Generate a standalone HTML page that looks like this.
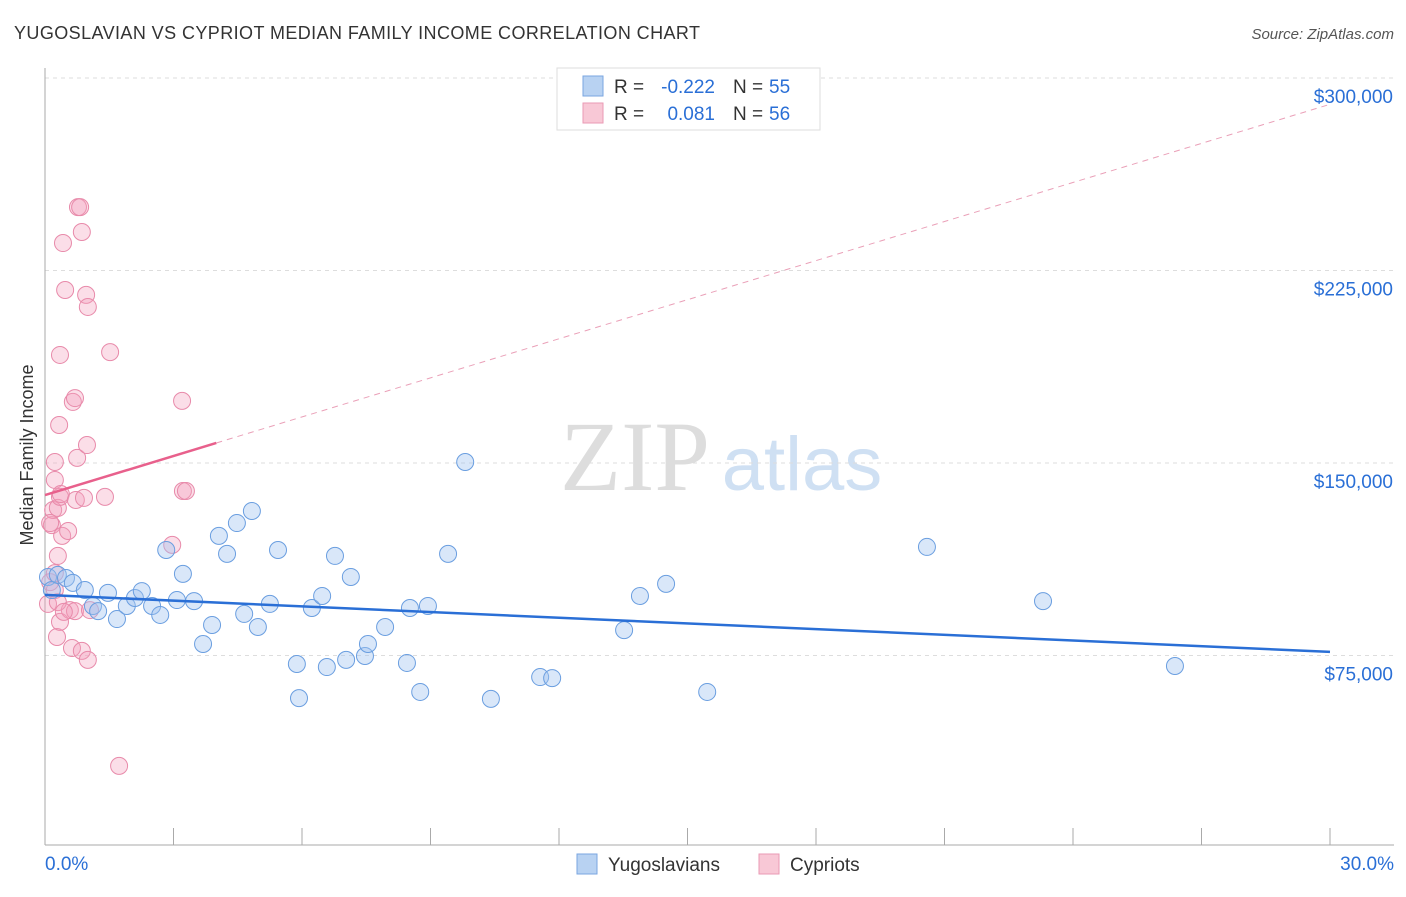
<!DOCTYPE html>
<html><head><meta charset="utf-8">
<style>
body{margin:0;background:#fff;font-family:"Liberation Sans",sans-serif}
svg text{font-family:"Liberation Sans",sans-serif}
</style></head>
<body>
<svg id="c" width="1406" height="892">
<text x="14" y="39" font-size="18" fill="#333" textLength="686">YUGOSLAVIAN VS CYPRIOT MEDIAN FAMILY INCOME CORRELATION CHART</text>
<text x="1394" y="39" font-size="15" fill="#555" font-style="italic" text-anchor="end">Source: ZipAtlas.com</text>
<text x="33" y="455" font-size="18" fill="#333" text-anchor="middle" transform="rotate(-90 33 455)">Median Family Income</text>
<g>
<text x="635" y="490" font-size="100" fill="#ddd" text-anchor="middle" style="font-family:'Liberation Serif',serif">ZIP</text>
<text x="802" y="490" font-size="76" fill="#cfe0f3" text-anchor="middle">atlas</text>
</g>
<g id="grid"></g><g id="axes"></g><g id="marks"></g>
<g>
<rect x="557" y="68" width="263" height="62" fill="#fff" stroke="#ddd"/>
<rect x="583" y="76" width="20" height="20" fill="#b8d2f2" stroke="#7aa6e0"/>
<rect x="583" y="103" width="20" height="20" fill="#f8c8d6" stroke="#ea9ab4"/>
<text x="614" y="93" font-size="19" fill="#333">R =</text>
<text x="715" y="93" font-size="19" fill="#2a6fd6" text-anchor="end">-0.222</text>
<text x="733" y="93" font-size="19" fill="#333">N =</text>
<text x="769" y="93" font-size="19" fill="#2a6fd6">55</text>
<text x="614" y="120" font-size="19" fill="#333">R =</text>
<text x="715" y="120" font-size="19" fill="#2a6fd6" text-anchor="end">0.081</text>
<text x="733" y="120" font-size="19" fill="#333">N =</text>
<text x="769" y="120" font-size="19" fill="#2a6fd6">56</text>
</g>
<g>
<rect x="577" y="854" width="20" height="20" fill="#b8d2f2" stroke="#7aa6e0"/>
<text x="608" y="871" font-size="19" fill="#333">Yugoslavians</text>
<rect x="759" y="854" width="20" height="20" fill="#f8c8d6" stroke="#ea9ab4"/>
<text x="790" y="871" font-size="19" fill="#333">Cypriots</text>
</g>
</svg>
<script>
const yTicks=[75000,150000,225000,300000];
const yTickLabels=["$75,000","$150,000","$225,000","$300,000"];
const xTicks=[0,3,6,9,12,15,18,21,24,27,30];
const blueX=[0.07,0.16,0.30,0.49,0.65,0.93,1.12,1.24,1.47,1.68,1.91,2.10,2.26,2.50,2.69,2.83,3.08,3.22,3.48,3.69,3.90,4.06,4.25,4.48,4.65,4.83,4.97,5.25,5.44,5.88,5.93,6.23,6.47,6.58,6.77,7.03,7.14,7.47,7.54,7.94,8.45,8.52,8.76,8.94,9.41,9.81,10.41,11.56,11.84,13.52,13.89,14.50,15.46,20.59,23.30,26.38];
const blueY=[105600,100500,106400,105200,103300,100500,94300,92300,99400,89200,94300,97400,100100,94300,90800,116100,96600,106800,96200,79500,86900,121600,114600,126600,91200,131300,86100,95100,116100,71700,58400,93500,98200,70500,113800,73300,105600,74800,79500,86100,72100,93500,60800,94300,114600,150400,58100,66600,66200,84900,98200,102900,60800,117300,96200,70900];
const pinkX=[0.07,0.12,0.16,0.19,0.23,0.23,0.23,0.28,0.30,0.30,0.33,0.35,0.35,0.37,0.40,0.35,0.42,0.47,0.54,0.58,0.63,0.65,0.70,0.70,0.72,0.75,0.77,0.82,0.86,0.86,0.91,0.96,0.98,1.00,1.00,1.05,1.40,1.52,1.73,2.97,3.20,3.22,3.29,0.23,0.12,0.30,0.44];
const pinkY=[95100,103600,125800,131700,143400,150400,107100,82200,132500,113800,164800,136800,88100,137900,121600,192100,235700,217400,123500,92700,77900,173800,175300,92300,135600,152000,249700,249700,240000,76800,136400,215500,157000,210800,73300,92700,136800,193200,32000,118100,174200,139100,139100,100500,126600,95800,92000];
const blueTrend=[98600,76400];
const pinkTrend=[137500,5075];
const X=v=>45+v/30*1285, Y=v=>78+(300000-v)/75000*192.5;
const ns="http://www.w3.org/2000/svg";
function mk(p,t,a){const e=document.createElementNS(ns,t);for(const k in a)e.setAttribute(k,a[k]);p.appendChild(e);return e;}
const g=document.getElementById('grid'),ax=document.getElementById('axes'),m=document.getElementById('marks');
yTicks.forEach((v,i)=>{
 const l=mk(g,'line',{x1:45,x2:1394,y1:Y(v),y2:Y(v),stroke:'#ddd','stroke-dasharray':'4 4'});
 
 
 const t=mk(ax,'text',{x:1393,y:Y(v)+25,'font-size':19,fill:'#2a6fd6','text-anchor':'end'});t.textContent=yTickLabels[i];
 
 
});
mk(ax,'line',{x1:45,x2:45,y1:68,y2:845,stroke:'#aaa'});
mk(ax,'line',{x1:45,x2:1394,y1:845,y2:845,stroke:'#aaa'});
xTicks.forEach(v=>{const l=mk(ax,'line',{x1:X(v),x2:X(v),y1:828,y2:845,stroke:'#aaa'});
 
 });
let t=mk(ax,'text',{x:45,y:870,'font-size':19,fill:'#2a6fd6'});t.textContent='0.0%';


t=mk(ax,'text',{x:1394,y:870,'font-size':19,fill:'#2a6fd6','text-anchor':'end'});t.textContent='30.0%';


pinkX.forEach((x,i)=>{const c=mk(m,'circle',{cx:X(x),cy:Y(pinkY[i]),r:8.5,fill:'rgba(244,160,188,0.35)',stroke:'#e88aaa','stroke-width':1});
 
 });
blueX.forEach((x,i)=>{const c=mk(m,'circle',{cx:X(x),cy:Y(blueY[i]),r:8.5,fill:'rgba(160,196,240,0.4)',stroke:'#6a9ee0','stroke-width':1});
 
 });
let l=mk(m,'line',{x1:X(0),y1:Y(blueTrend[0]),x2:X(30),y2:Y(blueTrend[1]),stroke:'#2a6fd6','stroke-width':2.5});


l=mk(m,'line',{x1:X(0),y1:Y(pinkTrend[0]),x2:X(4),y2:Y(pinkTrend[0]+4*pinkTrend[1]),stroke:'#e8608c','stroke-width':2.5});


l=mk(m,'line',{x1:X(4),y1:Y(pinkTrend[0]+4*pinkTrend[1]),x2:X(30),y2:Y(pinkTrend[0]+30*pinkTrend[1]),stroke:'#eaa0b8','stroke-width':1,'stroke-dasharray':'6 5'});


</script>
</body></html>
